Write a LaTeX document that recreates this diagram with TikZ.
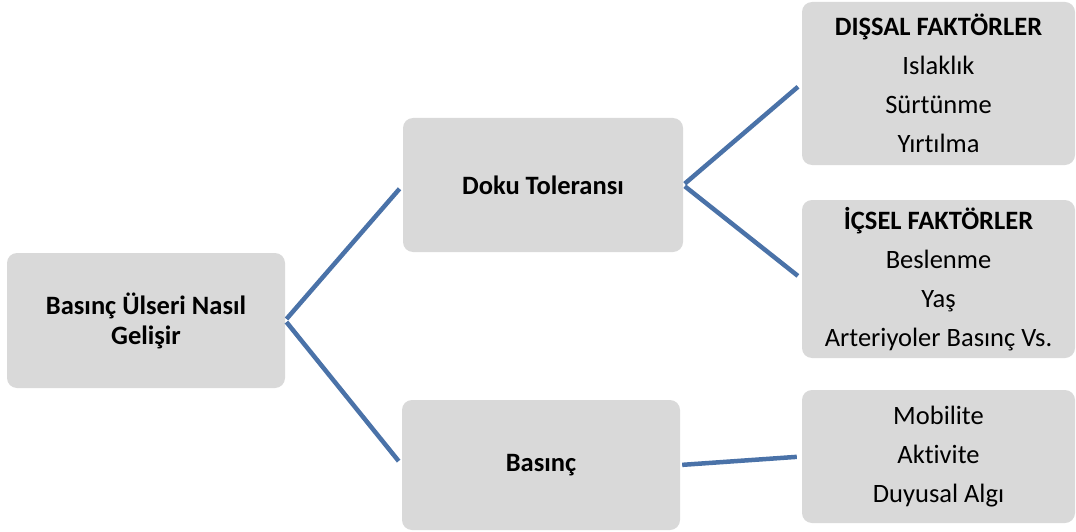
\documentclass[tikz,border=0pt]{standalone}
\usepackage{fontspec}
\setmainfont[Ligatures={NoCommon}]{Carlito}
\definecolor{boxgray}{RGB}{217,217,217}
\definecolor{linkblue}{RGB}{74,114,168}
\tikzset{
  box/.style={fill=boxgray, rounded corners=10pt, align=center, inner sep=0pt,
    minimum width=275pt, font=\fontsize{26.5}{39}\selectfont},
  link/.style={draw=linkblue, line width=4.5pt, shorten <=2pt, shorten >=5pt}
}
\begin{document}
\begin{tikzpicture}[x=1pt,y=-1pt]
            \useasboundingbox (0,0) rectangle (1076,532);

            \node[box, minimum width=278pt, minimum height=135pt, font=\fontsize{26.5}{30}\selectfont\bfseries] (root) at (146,320.5) {Basınç Ülseri Nasıl\\Gelişir};
            \node[box, minimum width=280pt, minimum height=134pt, font=\fontsize{26.5}{39}\selectfont\bfseries] (doku) at (543,185) {Doku Toleransı};
            \node[box, minimum width=278pt, minimum height=130pt, font=\fontsize{26.5}{39}\selectfont\bfseries] (basinc) at (541,465) {Basınç};

            \node[box, minimum width=273pt, minimum height=163pt] (dissal) at (938.5,83.5) {\textbf{DIŞSAL FAKTÖRLER}\\Islaklık\\Sürtünme\\Yırtılma};
            \node[box, minimum width=273pt, minimum height=158pt] (icsel) at (938.5,279) {\textbf{İÇSEL FAKTÖRLER}\\Beslenme\\Yaş\\Arteriyoler Basınç Vs.};
            \node[box, minimum width=273pt, minimum height=133pt] (hareket) at (938.5,456.5) {Mobilite\\Aktivite\\Duyusal Algı};

            \draw[link] (root.east) -- (doku.west);
            \draw[link] (root.east) -- (basinc.west);
            \draw[link] (doku.east) -- (dissal.west);
            \draw[link] (doku.east) -- (icsel.west);
            \draw[link] (basinc.east) -- (hareket.west);
        \end{tikzpicture}
\end{document}
